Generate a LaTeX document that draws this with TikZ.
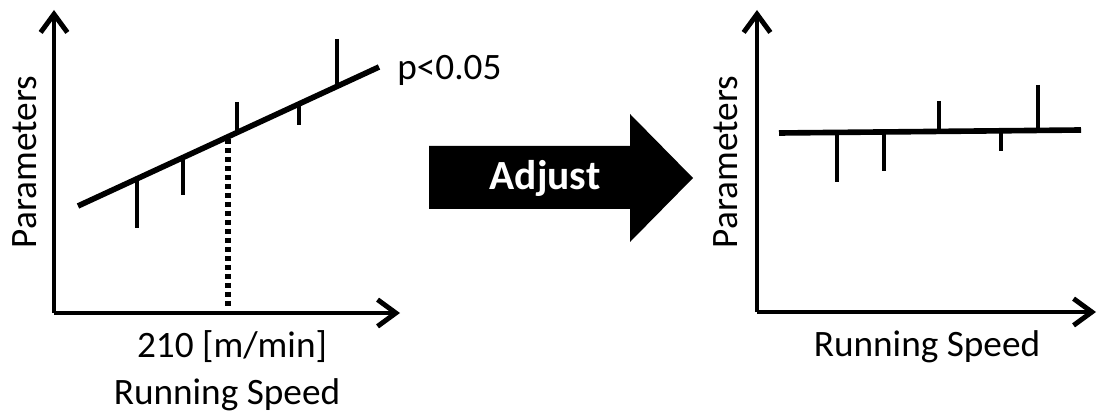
\documentclass[tikz,border=0pt]{standalone}
\usepackage{fontspec}
\setmainfont{Carlito}
\usetikzlibrary{arrows.meta}
\tikzset{
  axis/.style={line width=3.5pt, -{Straight Barb[length=13pt,width=19pt]}},
  fitline/.style={line width=4pt},
  errbar/.style={line width=3.2pt},
  lbl/.style={inner sep=0pt, font=\fontsize{26.5}{30}\selectfont}
}
\begin{document}
\begin{tikzpicture}[x=0.025cm, y=-0.025cm, line join=round]
			\useasboundingbox (0,0) rectangle (1097,412);
			% before adjustment
			\draw[axis] (54,313)--(54,10);
			\draw[axis] (54,313)--(400,313);
			\draw[fitline] (78,206)--(379,67);
			\draw[errbar] (137,179)--(137,228);
			\draw[errbar] (183,157)--(183,195);
			\draw[errbar] (237,102)--(237,133);
			\draw[errbar] (299,104)--(299,125);
			\draw[errbar] (337,39)--(337,86);
			\draw[line width=4pt, dash pattern=on 3.6pt off 2.8pt] (228,139)--(228,307);
			\node[lbl, rotate=90] (ylabA) at (25,162) {Parameters};
			\node[lbl] (speed) at (232,347) {210 [m/min]};
			\node[lbl] (xlabA) at (227,395) {Running Speed};
			\node[lbl, anchor=west] (pval) at (397,70) {p<0.05};
			% arrow
			\fill (429,146)--(630,146)--(630,114)--(693,178)--(630,242)--(630,209)--(429,209)--cycle;
			\node[inner sep=0pt, text=white, font=\fontsize{29.5}{32}\selectfont\bfseries] (adjust) at (545,178) {Adjust};
			% after adjustment
			\draw[axis] (757,312)--(757,10);
			\draw[axis] (757,312)--(1096,312);
			\draw[fitline] (779,133)--(1081,130);
			\draw[errbar] (837,132)--(837,182);
			\draw[errbar] (884,132)--(884,171);
			\draw[errbar] (939,101)--(939,131);
			\draw[errbar] (1001,131)--(1001,151);
			\draw[errbar] (1038,85)--(1038,130);
			\node[lbl, rotate=90] (ylabB) at (726,162) {Parameters};
			\node[lbl] (xlabB) at (927,347) {Running Speed};
		\end{tikzpicture}
\end{document}
